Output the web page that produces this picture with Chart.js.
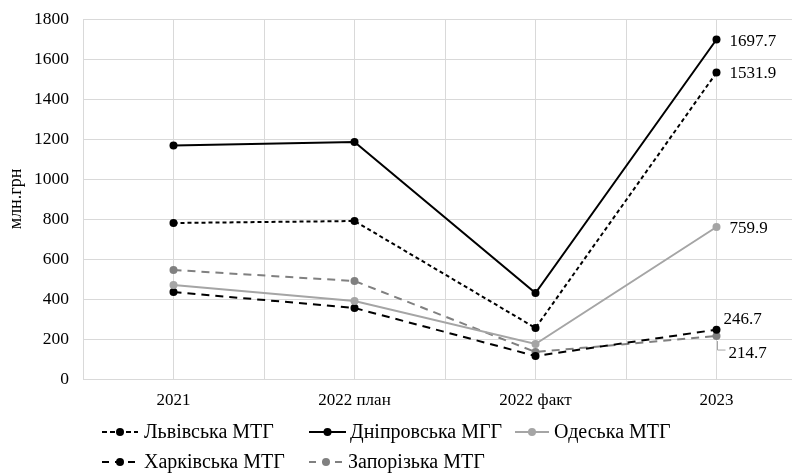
<!DOCTYPE html>
<html>
<head>
<meta charset="utf-8">
<script src="https://cdn.jsdelivr.net/npm/chart.js@4/dist/chart.umd.min.js"></script>
<style>
  html, body { margin: 0; padding: 0; background: #fff; overflow: hidden; }
  #wrap { width: 818px; height: 474px; }
</style>
</head>
<body>
<div id="wrap"><canvas id="c" width="818" height="474"></canvas></div>
<script>
// Categories and series (млн грн)
const categories = ['2021', '2022 план', '2022 факт', '2023'];
const lvivValues = [780, 790, 255, 1531.9];
const dniproValues = [1168, 1185, 430, 1697.7];
const odesaValues = [470, 390, 175, 759.9];
const kharkivValues = [435, 355, 115, 246.7];
const zaporizhValues = [545, 490, 135, 214.7];
const seriesNames = ['Львівська МТГ', 'Дніпровська МГГ', 'Одеська МТГ', 'Харківська МТГ', 'Запорізька МТГ'];
const yTicks = [0, 200, 400, 600, 800, 1000, 1200, 1400, 1600, 1800];

const FONT = 'Liberation Serif, Times New Roman, serif';

const styles = [
  { color: '#000000', dash: [4, 3], width: 2 },
  { color: '#000000', dash: [], width: 2 },
  { color: '#a5a5a5', dash: [], width: 2 },
  { color: '#000000', dash: [8, 6], width: 2 },
  { color: '#808080', dash: [8, 6], width: 2 }
];
const legendDash = [[5, 3], [], [], [7, 6], [7, 6]];
const allValues = [lvivValues, dniproValues, odesaValues, kharkivValues, zaporizhValues];

const datasets = allValues.map((vals, i) => ({
  label: seriesNames[i],
  data: vals.map((v, k) => ({ x: k, y: v })),
  borderColor: styles[i].color,
  backgroundColor: styles[i].color,
  borderDash: styles[i].dash,
  borderWidth: styles[i].width,
  pointRadius: 4,
  pointHoverRadius: 4,
  pointBorderWidth: 0,
  tension: 0
}));

// value labels at the last point of each line
const labelOffsets = [
  { dx: 13, dy: 1 },
  { dx: 13, dy: 2 },
  { dx: 13, dy: 2 },
  { dx: 7, dy: -10 },
  { dx: 12, dy: 17, leader: true }
];
const valueLabels = {
  id: 'valueLabels',
  afterDatasetsDraw(chart) {
    const ctx = chart.ctx;
    ctx.save();
    ctx.font = '17px ' + FONT;
    ctx.fillStyle = '#000';
    ctx.textBaseline = 'middle';
    ctx.textAlign = 'left';
    chart.data.datasets.forEach((ds, i) => {
      const meta = chart.getDatasetMeta(i);
      const last = meta.data[meta.data.length - 1];
      const v = ds.data[ds.data.length - 1].y;
      const o = labelOffsets[i];
      const tx = last.x + o.dx, ty = last.y + o.dy;
      if (o.leader) {
        ctx.strokeStyle = '#a5a5a5';
        ctx.lineWidth = 1;
        ctx.setLineDash([]);
        ctx.beginPath();
        ctx.moveTo(last.x + 1, last.y + 5);
        ctx.lineTo(last.x + 1, ty - 3);
        ctx.lineTo(tx - 3, ty - 3);
        ctx.stroke();
      }
      ctx.fillText(v.toFixed(1), tx, ty);
    });
    ctx.restore();
  }
};

// legend laid out in two rows below the axis
const legendPos = [
  { x: 102, w: 36, y: 432, tx: 144 }, { x: 309, w: 37, y: 432, tx: 350 }, { x: 515, w: 34, y: 432, tx: 554 },
  { x: 102, w: 36, y: 462, tx: 144 }, { x: 309, w: 34, y: 462, tx: 348 }
];
const customLegend = {
  id: 'customLegend',
  afterDraw(chart) {
    const ctx = chart.ctx;
    ctx.save();
    chart.data.datasets.forEach((ds, i) => {
      const p = legendPos[i];
      const s = styles[i];
      ctx.strokeStyle = s.color;
      ctx.lineWidth = s.width;
      ctx.setLineDash(legendDash[i]);
      ctx.beginPath();
      ctx.moveTo(p.x, p.y);
      ctx.lineTo(p.x + p.w, p.y);
      ctx.stroke();
      ctx.setLineDash([]);
      ctx.fillStyle = s.color;
      ctx.beginPath();
      ctx.arc(p.x + p.w / 2, p.y, 4, 0, Math.PI * 2);
      ctx.fill();
      ctx.fillStyle = '#000';
      ctx.font = '20px ' + FONT;
      ctx.textBaseline = 'middle';
      ctx.textAlign = 'left';
      ctx.fillText(ds.label, p.tx, p.y + 1);
    });
    ctx.restore();
  }
};

new Chart(document.getElementById('c'), {
  type: 'line',
  data: { datasets },
  plugins: [valueLabels, customLegend],
  options: {
    responsive: false,
    animation: false,
    events: [],
    layout: { padding: { top: 19, right: 6, bottom: 0, left: 0 } },
    plugins: { legend: { display: false }, tooltip: { enabled: false } },
    scales: {
      x: {
        type: 'linear',
        min: -0.5,
        max: 3.5,
        afterFit(scale) { scale.height = 95; },
        afterBuildTicks(scale) {
          const t = [];
          for (let v = -0.5; v <= 3.5; v += 0.5) t.push({ value: v });
          scale.ticks = t;
        },
        ticks: {
          autoSkip: false,
          maxRotation: 0,
          padding: 11,
          color: '#000',
          font: { family: FONT, size: 17 },
          callback: (v) => Number.isInteger(v) ? categories[v] : ''
        },
        grid: { color: '#d9d9d9', lineWidth: 1, drawTicks: false },
        border: { display: false }
      },
      y: {
        min: 0,
        max: 1800,
        afterFit(scale) {
          scale.width = 83;
          scale.paddingTop = 0;
          scale.paddingBottom = 0;
        },
        afterBuildTicks(scale) { scale.ticks = yTicks.map(v => ({ value: v })); },
        ticks: {
          padding: 14,
          color: '#000',
          font: { family: FONT, size: 17.5 },
          callback: (v) => String(v)
        },
        grid: { color: '#d9d9d9', lineWidth: 1, drawTicks: false },
        border: { display: false },
        title: {
          display: true,
          text: 'млн.грн',
          color: '#000',
          font: { family: FONT, size: 18 },
          padding: { top: 5, bottom: 2 }
        }
      }
    }
  }
});
</script>
</body>
</html>
